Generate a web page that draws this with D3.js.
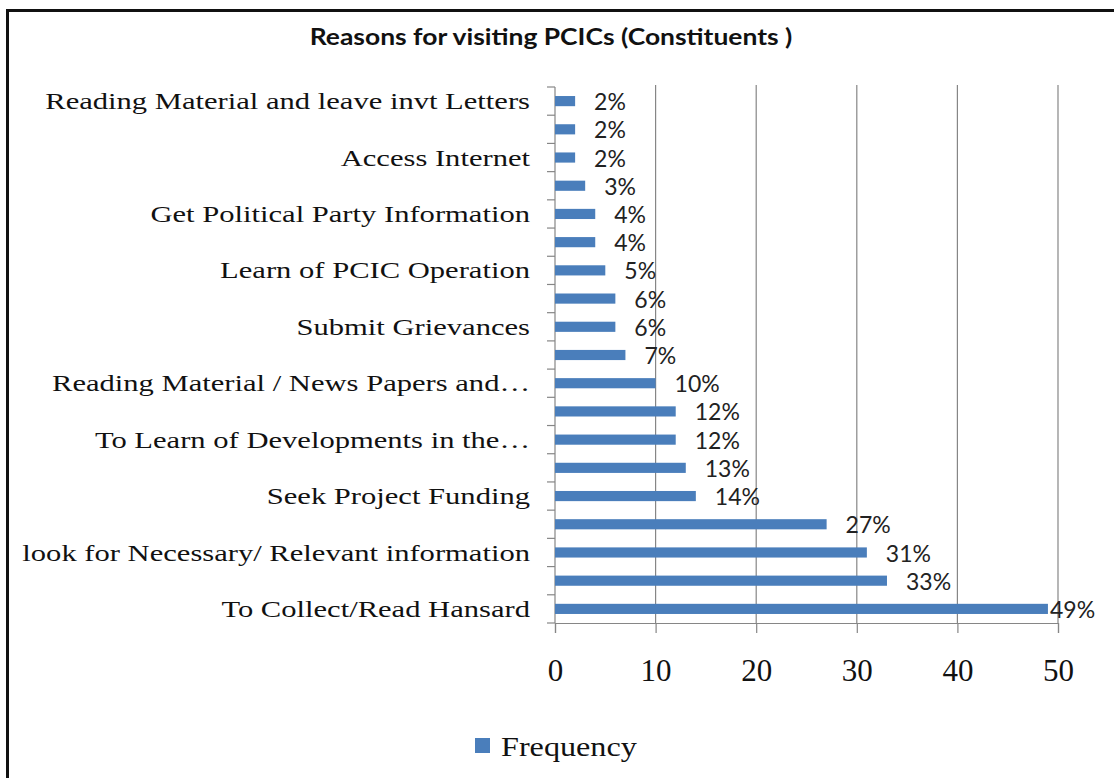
<!DOCTYPE html>
<html>
<head>
<meta charset="utf-8">
<script src="https://cdn.jsdelivr.net/npm/d3@7"></script>
<style>
  body { margin: 0; background: #fff; }
  svg { display: block; }
</style>
</head>
<body>
<svg width="1114" height="778"></svg>
<script>
// categories top to bottom (null = label skipped by the axis in the original)
const categories = [
  "Reading Material and leave invt Letters", null,
  "Access Internet", null,
  "Get Political Party Information", null,
  "Learn of PCIC Operation", null,
  "Submit Grievances", null,
  "Reading Material / News Papers and\u2026", null,
  "To Learn of Developments in the\u2026", null,
  "Seek Project Funding", null,
  "look for Necessary/ Relevant information", null,
  "To Collect/Read Hansard"
];
const frequency = [2, 2, 2, 3, 4, 4, 5, 6, 6, 7, 10, 12, 12, 13, 14, 27, 31, 33, 49];
const xTicks = [0, 10, 20, 30, 40, 50];

const svg = d3.select("svg");
const margin = { top: 87, right: 56, bottom: 155, left: 555 };
const W = 1114, H = 778;
const serif = "'Liberation Serif', 'Times New Roman', serif";
const sans = "Lato, 'Open Sans', sans-serif";

// the original picture is stretched sideways, so text is widened a bit
const stretch = (sx) => (x, y) => `translate(${x},${y}) scale(${sx},1)`;

// frame
svg.append("rect").attr("x", 0).attr("y", 0).attr("width", W).attr("height", H).attr("fill", "#fff");
svg.append("rect")
  .attr("x", 7.5).attr("y", 10.5).attr("width", W + 20).attr("height", H + 20)
  .attr("fill", "none").attr("stroke", "#111").attr("stroke-width", 3);

// title
svg.append("text")
  .attr("transform", stretch(1.15)(551, 45))
  .attr("text-anchor", "middle")
  .attr("font-family", sans)
  .attr("font-weight", "bold")
  .attr("font-size", 23)
  .attr("fill", "#111")
  .text("Reasons for visiting PCICs (Constituents )");

const x = d3.scaleLinear().domain([0, 50]).range([margin.left, W - margin.right]);
const y = d3.scaleBand().domain(d3.range(categories.length))
  .range([margin.top, H - margin.bottom]).paddingInner(0.64).paddingOuter(0.32);
const yTop = margin.top, yBot = H - margin.bottom;

// gridlines
svg.append("g").selectAll("line")
  .data(xTicks.filter(d => d > 0))
  .join("line")
  .attr("x1", d => x(d)).attr("x2", d => x(d))
  .attr("y1", yTop - 2).attr("y2", yBot)
  .attr("stroke", "#868686").attr("stroke-width", 1.2);

// x axis
const xAxis = svg.append("g")
  .attr("transform", `translate(0,${yBot})`)
  .call(d3.axisBottom(x).tickValues(xTicks).tickSize(10).tickPadding(26).tickFormat(d3.format("d")));
xAxis.select(".domain").attr("stroke", "#868686").attr("stroke-width", 1.2);
xAxis.selectAll(".tick line").attr("stroke", "#868686").attr("stroke-width", 1.2);
xAxis.selectAll(".tick text")
  .attr("font-family", serif)
  .attr("font-size", 31).attr("fill", "#111");

// y axis line + boundary ticks
const step = y.step();
svg.append("line")
  .attr("x1", margin.left).attr("x2", margin.left)
  .attr("y1", yTop).attr("y2", yBot)
  .attr("stroke", "#868686").attr("stroke-width", 1.2);
svg.append("g").selectAll("line")
  .data(d3.range(categories.length + 1))
  .join("line")
  .attr("x1", margin.left - 8).attr("x2", margin.left)
  .attr("y1", i => yTop + i * step).attr("y2", i => yTop + i * step)
  .attr("stroke", "#868686").attr("stroke-width", 1.2);

// category labels
svg.append("g").selectAll("text")
  .data(categories.map((c, i) => ({ c, i })).filter(d => d.c))
  .join("text")
  .attr("transform", d => stretch(1.33)(530, y(d.i) + y.bandwidth() / 2))
  .attr("dy", "0.35em")
  .attr("text-anchor", "end")
  .attr("font-family", serif)
  .attr("font-size", 23)
  .attr("fill", "#111")
  .text(d => d.c);

// bars
svg.append("g").selectAll("rect")
  .data(frequency)
  .join("rect")
  .attr("x", x(0))
  .attr("y", (d, i) => y(i))
  .attr("width", d => x(d) - x(0))
  .attr("height", y.bandwidth())
  .attr("fill", "#4a7ebb");

// value labels
svg.append("g").selectAll("text")
  .data(frequency)
  .join("text")
  .attr("x", d => Math.min(x(d) + 19, x(50) - 8))
  .attr("y", (d, i) => y(i) + y.bandwidth() / 2 + 1)
  .attr("dy", "0.35em")
  .attr("font-family", sans)
  .attr("font-size", 23)
  .attr("fill", "#222")
  .text(d => d + "%");

// legend
const lg = svg.append("g").attr("transform", "translate(475,738)");
lg.append("rect").attr("width", 15).attr("height", 15).attr("fill", "#4a7ebb");
lg.append("text")
  .attr("transform", stretch(1.15)(26, 8))
  .attr("dy", "0.35em")
  .attr("font-family", serif)
  .attr("font-size", 28).attr("fill", "#111")
  .text("Frequency");
</script>
</body>
</html>
